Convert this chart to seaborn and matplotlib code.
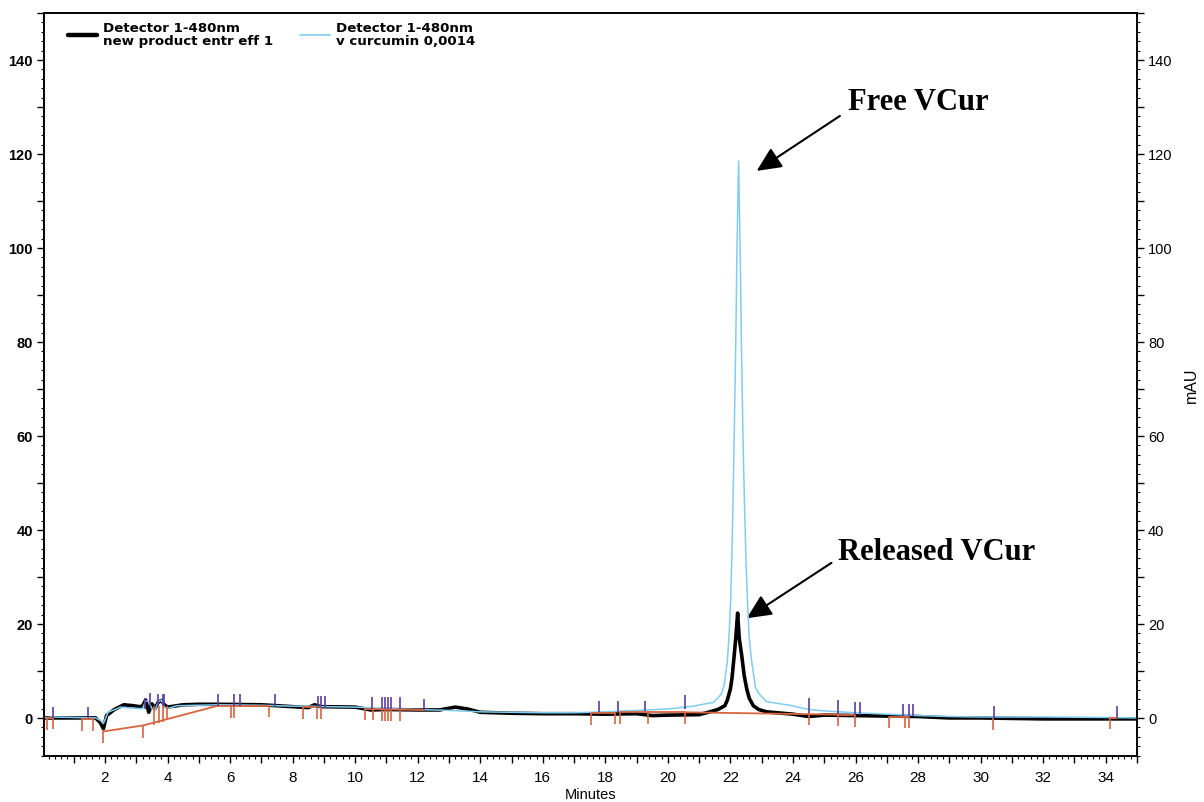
import numpy as np
import pandas as pd
import matplotlib
matplotlib.use("Agg")
import matplotlib.pyplot as plt
from matplotlib.ticker import MultipleLocator, FuncFormatter
from matplotlib.lines import Line2D
import seaborn as sns

# ---------------- data ----------------
# v curcumin 0,0014 (light blue trace)
blue_t = [0.05, 0.3, 1.0, 1.7, 1.85, 1.95, 2.1, 2.5, 2.8, 3.1, 3.2, 3.3, 3.4, 3.5, 3.6, 3.7, 3.8, 3.9,
          4.0, 4.3, 5.0, 5.6, 7.0, 8.0, 8.6, 9.0, 10.0, 11.0, 12.0, 13.0, 14.0, 15.0, 16.0, 17.0,
          18.0, 19.0, 20.0, 20.8, 21.2, 21.45, 21.7, 21.8, 21.9, 21.95, 22.0, 22.04, 22.08, 22.12,
          22.17, 22.21, 22.26, 22.31, 22.35, 22.40, 22.45, 22.50, 22.55, 22.6, 22.68, 22.8, 22.9,
          23.0, 23.15, 23.3, 23.9, 24.5, 25.0, 26.0, 27.0, 28.0, 29.0, 30.0, 32.0, 34.0, 35.0]
blue_v = [0.0, 0.2, 0.1, 0.0, -0.5, -1.2, 1.2, 2.3, 2.1, 2.0, 2.0, 3.6, 3.5, 2.0, 1.6, 3.4, 3.8, 2.2,
          2.0, 2.6, 2.7, 2.8, 2.7, 2.5, 2.5, 2.4, 2.3, 2.0, 1.8, 1.6, 1.3, 1.2, 1.1, 1.1,
          1.3, 1.6, 1.9, 2.5, 3.0, 3.3, 5.0, 7.0, 12.0, 17.0, 24.0, 33.0, 45.0, 60.0,
          80.0, 100.0, 118.5, 100.0, 80.0, 60.0, 45.0, 33.0, 24.0, 17.0, 12.0, 6.5, 5.3,
          4.5, 3.5, 3.3, 2.7, 1.8, 1.5, 1.1, 0.8, 0.5, 0.3, 0.2, 0.2, 0.1, 0.0]

# new product entr eff 1 (black trace)
black_t = [0.05, 1.0, 1.7, 1.85, 1.95, 2.05, 2.3, 2.6, 2.9, 3.1, 3.2, 3.3, 3.4, 3.5, 3.6, 3.7, 3.8,
           3.9, 4.0, 4.5, 5.0, 5.6, 7.0, 8.0, 8.5, 8.7, 8.9, 10.0, 10.5, 11.0, 12.0, 12.7, 13.2,
           13.6, 14.0, 15.0, 16.0, 17.0, 18.0, 19.0, 19.5, 20.0, 21.0, 21.34, 21.6, 21.82, 21.9,
           22.0, 22.05, 22.12, 22.17, 22.23, 22.28, 22.36, 22.44, 22.52, 22.6, 22.73, 22.9, 23.15,
           24.0, 24.5, 25.0, 26.0, 27.0, 28.0, 29.0, 30.0, 32.0, 34.0, 35.0]
black_v = [0.0, 0.0, 0.0, -1.0, -2.3, 0.5, 1.8, 2.8, 2.6, 2.4, 2.5, 3.8, 1.2, 3.0, 2.0, 3.3, 3.7,
           2.8, 2.3, 2.8, 2.9, 2.9, 2.8, 2.4, 2.2, 2.8, 2.4, 2.3, 1.7, 1.8, 1.7, 1.7, 2.3,
           1.9, 1.2, 1.0, 0.9, 0.9, 0.8, 0.9, 0.5, 0.6, 0.7, 1.3, 1.8, 2.6, 3.8,
           6.2, 8.5, 13.3, 17.0, 22.3, 17.0, 13.3, 9.0, 6.2, 4.2, 2.6, 1.8, 1.3,
           0.8, 0.3, 0.6, 0.5, 0.4, 0.3, 0.0, 0.0, -0.2, -0.2, -0.2]

# integration baselines (red-orange segments): start time, start value, end time, end value
base_t0 = [0.14, 1.26, 1.93, 3.22, 5.61, 8.33, 10.31, 17.54, 18.48, 19.36, 20.56, 24.51, 25.44, 27.07, 34.13]
base_v0 = [0.0, -0.3, -2.9, -1.6, 2.6, 2.3, 1.9, 1.0, 1.3, 1.2, 1.2, 0.8, 0.6, 0.3, 0.0]
base_t1 = [0.33, 1.63, 3.22, 5.61, 7.26, 8.77, 12.20, 18.30, 19.36, 20.56, 24.51, 25.44, 25.97, 27.72, 34.36]
base_v1 = [0.0, -0.3, -1.6, 2.6, 2.6, 2.3, 1.7, 1.0, 1.3, 1.2, 0.8, 0.7, 0.6, 0.3, 0.0]

# peak-end markers (red-orange, pointing down)
red_t = [0.14, 0.33, 1.26, 1.63, 1.93, 3.22, 3.57, 3.73, 3.86, 3.97, 6.02, 6.11, 7.26, 8.33, 8.77,
         8.91, 10.31, 10.56, 10.86, 10.95, 11.05, 11.16, 11.43, 17.54, 18.30, 18.48, 19.36,
         20.56, 24.51, 25.44, 25.97, 27.07, 27.57, 27.72, 30.38, 34.13]
red_top = [0.0, 0.0, -0.3, -0.3, -2.9, -1.6, 2.5, 2.5, 3.0, 2.5, 2.6, 2.6, 2.6, 2.3, 2.3,
           2.3, 1.9, 1.9, 1.8, 1.8, 1.8, 1.8, 1.8, 1.0, 1.0, 1.3, 1.2,
           1.2, 1.0, 0.7, 0.6, 0.3, 0.3, 0.3, 0.0, 0.0]
red_bot = [-2.5, -2.4, -2.7, -2.7, -5.4, -4.2, -1.5, -1.0, -0.8, -0.4, 0.0, 0.0, 0.1, -0.2, -0.3,
           -0.3, -0.4, -0.5, -0.6, -0.6, -0.6, -0.6, -0.7, -1.5, -1.2, -1.2, -1.2,
           -1.2, -1.5, -1.8, -1.9, -2.2, -2.2, -2.2, -2.5, -2.4]

# peak-start markers (purple, pointing up)
pur_t = [0.35, 1.45, 3.28, 3.44, 3.70, 3.84, 3.89, 5.61, 6.11, 6.33, 7.44, 8.81, 8.91, 9.02, 10.54,
         10.86, 10.95, 11.04, 11.16, 11.43, 12.21, 17.81, 18.40, 19.28, 20.56, 24.51, 25.44,
         25.98, 26.14, 27.52, 27.70, 27.84, 30.44, 34.36]
pur_bot = [0.0, 0.0, 2.0, 2.5, 2.5, 2.5, 2.5, 2.6, 2.6, 2.6, 2.6, 2.3, 2.3, 2.3, 2.0,
           2.0, 2.0, 2.0, 2.0, 2.0, 1.7, 1.2, 1.3, 1.5, 1.9, 1.0, 0.8,
           0.7, 0.7, 0.5, 0.5, 0.5, 0.0, 0.0]
pur_top = [2.4, 2.4, 4.3, 5.2, 5.0, 5.0, 5.0, 5.1, 5.1, 5.1, 5.1, 4.7, 4.7, 4.7, 4.5,
           4.5, 4.5, 4.5, 4.5, 4.5, 4.0, 3.7, 3.7, 3.7, 4.8, 4.2, 3.8,
           3.3, 3.3, 2.9, 2.9, 2.9, 2.5, 2.6]

label_black = "Detector 1-480nm\nnew product entr eff 1"
label_blue = "Detector 1-480nm\nv curcumin 0,0014"
x_ticks = list(range(2, 35, 2))
y_ticks = list(range(0, 141, 20))

# ---------------- styling ----------------
sns.set_theme(style="ticks")
plt.rcParams['font.family'] = ['Liberation Sans', 'DejaVu Sans']
plt.rcParams.update({"text.color": "black", "axes.labelcolor": "black",
                     "xtick.color": "black", "ytick.color": "black",
                     "axes.edgecolor": "black"})

BLUE = "#7fcdf0"
RED = "#d8643f"
PURPLE = "#5a3c9e"

fig = plt.figure(figsize=(12.04, 8.03), dpi=100)
ax = fig.add_axes([44 / 1204, 1 - 757 / 803, (1137 - 44) / 1204, (757 - 14) / 803])

df_black = pd.DataFrame({"t": black_t, "v": black_v})
df_blue = pd.DataFrame({"t": blue_t, "v": blue_v})

sns.lineplot(data=df_black, x="t", y="v", ax=ax, color="black", lw=2.6,
             sort=False, estimator=None, zorder=3)
sns.lineplot(data=df_blue, x="t", y="v", ax=ax, color=BLUE, lw=1.1,
             sort=False, estimator=None, zorder=4)

for a, b, c, d in zip(base_t0, base_v0, base_t1, base_v1):
    ax.plot([a, c], [b, d], color=RED, lw=1.3, zorder=5)
ax.vlines(red_t, red_bot, red_top, color=RED, lw=1.2, zorder=5)
ax.vlines(pur_t, pur_bot, pur_top, color=PURPLE, lw=1.2, zorder=6)

ax.set_xlim(0.05, 35.0)
ax.set_ylim(-8.1, 150)

# ticks
ax.xaxis.set_major_locator(MultipleLocator(1))
ax.xaxis.set_minor_locator(MultipleLocator(0.2))
ax.xaxis.set_major_formatter(FuncFormatter(lambda v, p: f"{int(round(v))}" if int(round(v)) in x_ticks else ""))
ax.yaxis.set_major_locator(MultipleLocator(10))
ax.yaxis.set_minor_locator(MultipleLocator(2))
ax.yaxis.set_major_formatter(FuncFormatter(lambda v, p: f"{int(round(v))}" if int(round(v)) in y_ticks else ""))

ax.tick_params(axis="x", which="major", direction="out", length=5, width=1, labelsize=11, pad=5)
ax.tick_params(axis="x", which="minor", direction="out", length=2.5, width=0.8)
ax.tick_params(axis="y", which="major", direction="out", length=5, width=1, labelsize=10.5, pad=3)
ax.tick_params(axis="y", which="minor", direction="out", length=2.5, width=0.8)
for lbl in ax.get_yticklabels():
    lbl.set_fontweight("bold")

for s in ax.spines.values():
    s.set_visible(True)
    s.set_color("black")
    s.set_linewidth(1.2)

ax.set_xlabel("Minutes", fontsize=10.5, labelpad=2)
ax.set_ylabel("")

# right axis
ax2 = ax.twinx()
ax2.set_ylim(ax.get_ylim())
ax2.yaxis.set_major_locator(MultipleLocator(10))
ax2.yaxis.set_minor_locator(MultipleLocator(2))
ax2.yaxis.set_major_formatter(FuncFormatter(lambda v, p: f"{int(round(v))}" if int(round(v)) in y_ticks else ""))
ax2.tick_params(axis="y", which="major", direction="out", length=5, width=1, labelsize=10.5, pad=3)
ax2.tick_params(axis="y", which="minor", direction="out", length=2.5, width=0.8)
ax2.set_ylabel("mAU", fontsize=11.5, labelpad=8)
for s in ax2.spines.values():
    s.set_linewidth(1.2)

# legend
handles = [Line2D([], [], color="black", lw=3.2), Line2D([], [], color=BLUE, lw=1.2)]
leg = ax.legend(handles, [label_black, label_blue], ncol=2, frameon=False,
                loc="upper left", bbox_to_anchor=(0.022, 0.989), borderaxespad=0, borderpad=0,
                handlelength=2.2, handletextpad=0.45, columnspacing=2.0,
                prop={"family": "DejaVu Sans", "weight": "bold", "size": 9.6})
for t in leg.get_texts():
    t.set_linespacing(1.0)

# annotations
ann_font = dict(family=["Liberation Serif", "DejaVu Serif"], weight="bold", size=22, color="black")
ax.text(25.75, 129.6, "Free VCur", ha="left", va="baseline", **ann_font)
ax.text(25.43, 33.8, "Released VCur", ha="left", va="baseline", **ann_font)
arrow = dict(arrowstyle="-|>,head_length=0.75,head_width=0.35", color="black", lw=1.5,
             mutation_scale=20, shrinkA=0, shrinkB=0)
ax.annotate("", xy=(22.84, 116.4), xytext=(25.5, 128.1), arrowprops=arrow)
ax.annotate("", xy=(22.52, 21.2), xytext=(25.23, 33.0), arrowprops=arrow)

fig.savefig("out.png", dpi=100)
